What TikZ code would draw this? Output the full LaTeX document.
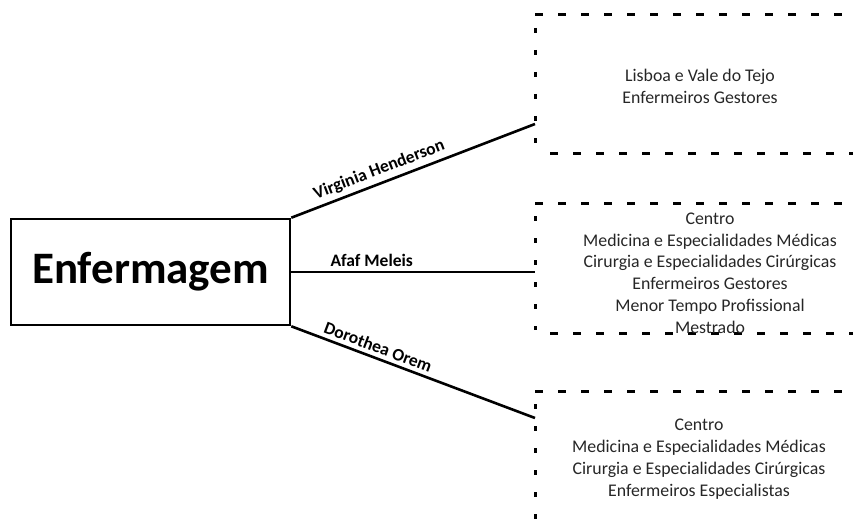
\documentclass[tikz,border=0pt]{standalone}
\usepackage{fontspec}
\setmainfont{Carlito}
\begin{document}
\begin{tikzpicture}[x=1pt,y=-1pt,
  mainbox/.style={draw,line width=2.6pt,minimum width=279pt,minimum height=106pt,inner sep=0pt,font=\bfseries\fontsize{45}{50}\selectfont},
  conn/.style={line width=2.6pt},
  lbl/.style={font=\bfseries\fontsize{17.5}{20}\selectfont,sloped,above,inner sep=4pt},
  hdash/.style={line width=3pt,dash pattern=on 8pt off 15pt},
  vdash/.style={line width=3pt,dash pattern=on 5pt off 17pt},
  info/.style={align=center,font=\fontsize{17.8}{21.8}\selectfont,text=black!85}]
\useasboundingbox (0,0) rectangle (853,524);
\node[mainbox] (main) at (150.5,272) {Enfermagem};
% dashed boxes
\coordinate (b1tl) at (535,15); \coordinate (b1bl) at (535,153);
\coordinate (b2tl) at (535,203); \coordinate (b2bl) at (535,333);
\coordinate (b3tl) at (535,391); \coordinate (b3bl) at (535,530);
\draw[hdash] (b1tl) -- (860,15);
\draw[vdash] ([yshift=-13pt]b1tl) -- ([yshift=3pt]b1bl);
\draw[hdash] ([xshift=15pt]b1bl) -- (860,153);
\draw[hdash] (b2tl) -- (860,203);
\draw[vdash] ([yshift=-13pt]b2tl) -- ([yshift=3pt]b2bl);
\draw[hdash] ([xshift=15pt]b2bl) -- (860,333);
\draw[hdash] (b3tl) -- (860,391);
\draw[vdash] ([yshift=-13pt]b3tl) -- (b3bl);
\node[info] (t1) at (700,86) {Lisboa e Vale do Tejo\\Enfermeiros Gestores};
\node[info] (t2) at (710,273) {Centro\\Medicina e Especialidades Médicas\\Cirurgia e Especialidades Cirúrgicas\\Enfermeiros Gestores\\Menor Tempo Profissional\\Mestrado};
\node[info] (t3) at (699,459) {Centro\\Medicina e Especialidades Médicas\\Cirurgia e Especialidades Cirúrgicas\\Enfermeiros Especialistas};
% connectors
\coordinate (c1) at (535,124);
\coordinate (c2) at (535,272);
\coordinate (c3) at (535,418);
\draw[conn] (main.north east) -- node[lbl,pos=0.38] (l1) {Virginia Henderson} (c1);
\draw[conn] (main.east) -- node[lbl,pos=0.33] (l2) {Afaf Meleis} (c2);
\draw[conn] (main.south east) -- node[lbl,pos=0.34] (l3) {Dorothea Orem} (c3);
\end{tikzpicture}
\end{document}
